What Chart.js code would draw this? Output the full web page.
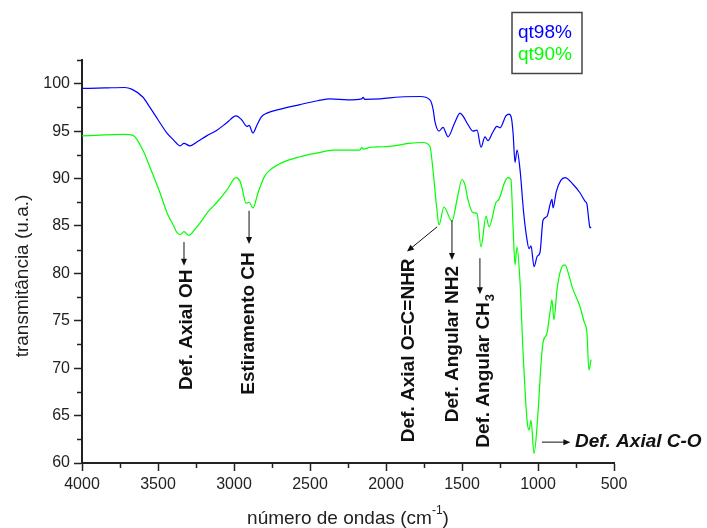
<!DOCTYPE html>
<html>
<head>
<meta charset="utf-8">
<script src="https://cdn.jsdelivr.net/npm/chart.js@4"></script>
<style>
  body { margin: 0; background: #fff; }
  canvas { display: block; }
</style>
</head>
<body>
<canvas id="ftir" width="707" height="528"></canvas>
<script>
// espectro qt98%
const qt98Wave = [4000, 3850, 3720, 3670, 3600, 3553, 3500, 3441, 3400, 3355, 3329, 3290, 3240, 3180, 3112, 3046, 2987, 2950, 2914, 2901, 2875, 2850, 2820, 2783, 2700, 2566, 2450, 2368, 2250, 2160, 2151, 2140, 2039, 1908, 1776, 1711, 1690, 1678, 1651, 1625, 1592, 1550, 1513, 1490, 1461, 1428, 1401, 1375, 1349, 1329, 1300, 1270, 1250, 1211, 1191, 1175, 1164, 1151, 1138, 1118, 1095, 1072, 1059, 1046, 1026, 1005, 987, 967, 941, 920, 908, 901, 880, 850, 822, 770, 724, 690, 678, 665, 658, 651];
const qt98Trans = [99.5, 99.55, 99.6, 99.4, 98.6, 97.5, 96.2, 94.8, 94.1, 93.45, 93.7, 93.45, 93.9, 94.5, 95.1, 95.9, 96.6, 96.2, 95.5, 95.6, 94.8, 95.6, 96.5, 96.9, 97.3, 97.8, 98.2, 98.4, 98.3, 98.4, 98.55, 98.35, 98.4, 98.6, 98.65, 98.3, 97.3, 96.0, 95.0, 95.4, 94.4, 95.8, 96.9, 96.5, 95.7, 95.0, 95.1, 93.3, 94.4, 94.0, 94.8, 95.5, 95.35, 96.6, 96.8, 96.4, 94.8, 91.7, 93.0, 90.9, 86.5, 83.5, 82.6, 82.9, 80.7, 81.8, 82.2, 85.6, 86.0, 87.3, 87.8, 86.9, 88.6, 89.8, 90.1, 89.4, 88.5, 87.6, 87.3, 85.5, 84.8, 84.9];

// espectro qt90%
const qt90Wave = [4000, 3850, 3720, 3664, 3600, 3553, 3487, 3441, 3400, 3375, 3355, 3329, 3296, 3260, 3224, 3170, 3112, 3046, 2987, 2960, 2947, 2921, 2901, 2875, 2842, 2800, 2763, 2680, 2566, 2450, 2349, 2250, 2171, 2160, 2150, 2100, 2020, 1908, 1850, 1757, 1711, 1691, 1665, 1651, 1619, 1566, 1530, 1500, 1480, 1461, 1428, 1401, 1375, 1342, 1322, 1276, 1257, 1217, 1197, 1178, 1164, 1151, 1138, 1118, 1099, 1072, 1059, 1046, 1026, 1000, 980, 967, 941, 920, 908, 895, 875, 842, 822, 800, 776, 724, 697, 678, 665, 651];
const qt90Trans = [94.5, 94.6, 94.65, 94.55, 93.0, 91.2, 88.5, 86.4, 85.1, 84.3, 84.1, 84.4, 84.0, 84.6, 85.3, 86.5, 87.5, 88.8, 90.1, 89.7, 89.0, 87.4, 87.5, 86.9, 88.5, 90.2, 90.9, 91.7, 92.3, 92.7, 93.0, 93.0, 93.0, 93.3, 93.1, 93.3, 93.35, 93.55, 93.7, 93.8, 93.4, 90.9, 86.7, 85.1, 87.0, 85.5, 88.0, 89.9, 89.3, 87.8, 86.4, 86.3, 82.8, 86.0, 84.9, 87.5, 87.8, 89.7, 90.1, 89.9, 84.9, 80.9, 82.8, 79.0, 71.9, 64.5, 63.5, 64.5, 61.0, 65.3, 70.5, 72.7, 73.7, 76.0, 77.2, 75.1, 78.3, 80.7, 80.9, 80.0, 78.6, 76.5, 74.9, 73.7, 69.8, 70.9];

const xTickValues = [4000, 3500, 3000, 2500, 2000, 1500, 1000, 500];
const yTickValues = [60, 65, 70, 75, 80, 85, 90, 95, 100];
const seriesNames = ['qt98%', 'qt90%'];

const toPoints = (xs, ys) => xs.map((x, i) => ({ x: x, y: ys[i] }));

// bandas assinaladas: seta (de -> para) e posição do texto, em unidades dos eixos
const bands = [
  { text: 'Def. Axial OH', from: [3329, 83.3], to: [3329, 80.8], at: [3312, 67.7], rotate: true },
  { text: 'Estiramento CH', from: [2901, 86.6], to: [2901, 83.1], at: [2901, 67.2], rotate: true },
  { text: 'Def. Axial O=C=NHR', from: [1664, 84.9], to: [1862, 82.3], at: [1852, 62.2], rotate: true },
  { text: 'Def. Angular NH2', from: [1566, 85.6], to: [1566, 81.4], at: [1559, 64.3], rotate: true },
  { text: 'Def. Angular CH', sub: '3', from: [1382, 81.6], to: [1382, 77.8], at: [1360, 61.6], rotate: true },
  { text: 'Def. Axial C-O', from: [974, 62.2], to: [787, 62.2], at: [757, 62.2], rotate: false, italic: true }
];

function arrow(ctx, x1, y1, x2, y2) {
  const ang = Math.atan2(y2 - y1, x2 - x1);
  const head = 7;
  ctx.beginPath();
  ctx.moveTo(x1, y1);
  ctx.lineTo(x2 - Math.cos(ang) * head * 0.8, y2 - Math.sin(ang) * head * 0.8);
  ctx.stroke();
  ctx.beginPath();
  ctx.moveTo(x2, y2);
  ctx.lineTo(x2 - head * Math.cos(ang) + 3 * Math.sin(ang), y2 - head * Math.sin(ang) - 3 * Math.cos(ang));
  ctx.lineTo(x2 - head * Math.cos(ang) - 3 * Math.sin(ang), y2 - head * Math.sin(ang) + 3 * Math.cos(ang));
  ctx.closePath();
  ctx.fill();
}

const extras = {
  id: 'extras',
  afterDraw(chart) {
    const { ctx, chartArea } = chart;
    const xs = chart.scales.x, ys = chart.scales.y;
    ctx.save();

    // minor ticks
    ctx.strokeStyle = '#222';
    ctx.lineWidth = 1.5;
    for (let v = 3750; v > 500; v -= 500) {
      const px = Math.round(xs.getPixelForValue(v)) + 0.5;
      ctx.beginPath();
      ctx.moveTo(px, chartArea.bottom);
      ctx.lineTo(px, chartArea.bottom + 5);
      ctx.stroke();
    }
    for (let v = 62.5; v <= 102.5; v += 5) {
      const py = Math.round(ys.getPixelForValue(v)) + 0.5;
      ctx.beginPath();
      ctx.moveTo(chartArea.left, py);
      ctx.lineTo(chartArea.left - 5, py);
      ctx.stroke();
    }

    // annotations
    ctx.strokeStyle = '#111';
    ctx.fillStyle = '#111';
    ctx.lineWidth = 1;
    bands.forEach(b => {
      arrow(ctx, xs.getPixelForValue(b.from[0]), ys.getPixelForValue(b.from[1]),
        xs.getPixelForValue(b.to[0]), ys.getPixelForValue(b.to[1]));
      const tx = xs.getPixelForValue(b.at[0]);
      const ty = ys.getPixelForValue(b.at[1]);
      ctx.save();
      ctx.translate(tx, ty);
      if (b.rotate) ctx.rotate(-Math.PI / 2);
      ctx.font = (b.italic ? 'italic ' : '') + 'bold 19px "Liberation Sans", Arial, sans-serif';
      ctx.textAlign = 'left';
      ctx.textBaseline = 'middle';
      ctx.fillText(b.text, 0, 0);
      if (b.sub) {
        const w = ctx.measureText(b.text).width;
        ctx.font = 'bold 13px "Liberation Sans", Arial, sans-serif';
        ctx.fillText(b.sub, w + 1, 7);
      }
      ctx.restore();
    });

    // axis titles
    ctx.fillStyle = '#222';
    ctx.textBaseline = 'alphabetic';
    const mainText = 'número de ondas (cm';
    const supText = '-1';
    ctx.font = '19px "Liberation Sans", Arial, sans-serif';
    const w1 = ctx.measureText(mainText).width;
    ctx.font = '12px "Liberation Sans", Arial, sans-serif';
    const w2 = ctx.measureText(supText).width;
    ctx.font = '19px "Liberation Sans", Arial, sans-serif';
    const w3 = ctx.measureText(')').width;
    let x0 = (chartArea.left + chartArea.right) / 2 - (w1 + w2 + w3) / 2;
    const base = 524;
    ctx.textAlign = 'left';
    ctx.fillText(mainText, x0, base);
    ctx.font = '12px "Liberation Sans", Arial, sans-serif';
    ctx.fillText(supText, x0 + w1, base - 10);
    ctx.font = '19px "Liberation Sans", Arial, sans-serif';
    ctx.fillText(')', x0 + w1 + w2, base);

    ctx.save();
    ctx.translate(23, 276);
    ctx.rotate(-Math.PI / 2);
    ctx.textAlign = 'center';
    ctx.textBaseline = 'middle';
    ctx.fillText('transmitância (u.a.)', 0, 0);
    ctx.restore();

    // legend box
    ctx.strokeStyle = '#444';
    ctx.lineWidth = 1.5;
    ctx.strokeRect(512, 12.5, 70, 61);
    ctx.font = '19px "Liberation Sans", Arial, sans-serif';
    ctx.textAlign = 'left';
    ctx.textBaseline = 'alphabetic';
    chart.data.datasets.forEach((ds, i) => {
      ctx.fillStyle = ds.borderColor;
      ctx.fillText(seriesNames[i], 518, 38 + i * 22);
    });

    ctx.restore();
  }
};

const axisFont = { family: '"Liberation Sans", Arial, sans-serif', size: 16 };

new Chart(document.getElementById('ftir'), {
  type: 'line',
  data: {
    datasets: [
      { label: seriesNames[0], data: toPoints(qt98Wave, qt98Trans), borderColor: '#0000ff' },
      { label: seriesNames[1], data: toPoints(qt90Wave, qt90Trans), borderColor: '#00ff00' }
    ]
  },
  options: {
    responsive: false,
    animation: false,
    devicePixelRatio: 1,
    layout: { padding: { top: 60, right: 93, left: 0, bottom: 0 } },
    elements: {
      line: { borderWidth: 1.2, cubicInterpolationMode: 'monotone' },
      point: { radius: 0 }
    },
    plugins: { legend: { display: false }, tooltip: { enabled: false } },
    scales: {
      x: {
        type: 'linear',
        reverse: true,
        min: 500,
        max: 4000,
        afterBuildTicks: s => { s.ticks = xTickValues.map(v => ({ value: v })); },
        afterFit: s => { s.height = 65; },
        grid: { drawOnChartArea: false, tickLength: 8, tickColor: '#222', tickWidth: 1.5 },
        border: { color: '#222', width: 2 },
        ticks: { color: '#222', font: axisFont, padding: 4, maxRotation: 0, callback: v => String(v) }
      },
      y: {
        min: 60,
        max: 102.5,
        afterBuildTicks: s => { s.ticks = yTickValues.map(v => ({ value: v })); },
        afterFit: s => { s.width = 82; },
        grid: { drawOnChartArea: false, tickLength: 8, tickColor: '#222', tickWidth: 1.5 },
        border: { color: '#222', width: 2 },
        ticks: { color: '#222', font: axisFont, padding: 4, callback: v => String(v) }
      }
    }
  },
  plugins: [extras]
});
</script>
</body>
</html>
